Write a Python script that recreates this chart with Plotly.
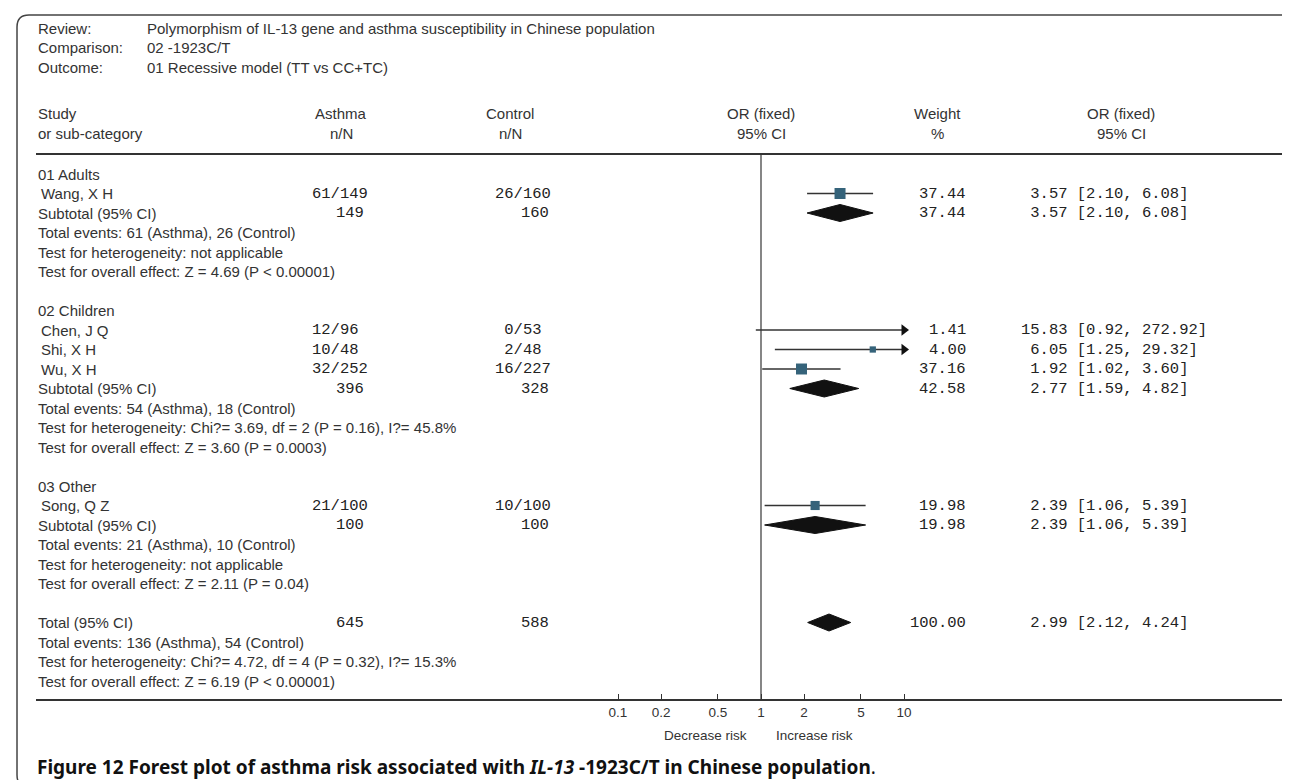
import plotly.graph_objects as go

# ---------------- data ----------------
review_labels = ["Review:", "Comparison:", "Outcome:"]
review_values = ["Polymorphism of IL-13 gene and asthma susceptibility in Chinese population",
                 "02 -1923C/T", "01 Recessive model (TT vs CC+TC)"]

groups = ["01 Adults", "02 Children", "03 Other"]
group_studies = [["Wang, X H"], ["Chen, J Q", "Shi, X H", "Wu, X H"], ["Song, Q Z"]]
asthma_n = [[61], [12, 10, 32], [21]]
asthma_N = [[149], [96, 48, 252], [100]]
control_n = [[26], [0, 2, 16], [10]]
control_N = [[160], [53, 48, 227], [100]]
study_weight = [[37.44], [1.41, 4.00, 37.16], [19.98]]
study_or = [[3.57], [15.83, 6.05, 1.92], [2.39]]
study_lo = [[2.10], [0.92, 1.25, 1.02], [1.06]]
study_hi = [[6.08], [272.92, 29.32, 3.60], [5.39]]

sub_asthma_N = [149, 396, 100]
sub_control_N = [160, 328, 100]
sub_weight = [37.44, 42.58, 19.98]
sub_or = [3.57, 2.77, 2.39]
sub_lo = [2.10, 1.59, 1.06]
sub_hi = [6.08, 4.82, 5.39]
sub_events = ["Total events: 61 (Asthma), 26 (Control)",
              "Total events: 54 (Asthma), 18 (Control)",
              "Total events: 21 (Asthma), 10 (Control)"]
sub_het = ["Test for heterogeneity: not applicable",
           "Test for heterogeneity: Chi?= 3.69, df = 2 (P = 0.16), I?= 45.8%",
           "Test for heterogeneity: not applicable"]
sub_effect = ["Test for overall effect: Z = 4.69 (P < 0.00001)",
              "Test for overall effect: Z = 3.60 (P = 0.0003)",
              "Test for overall effect: Z = 2.11 (P = 0.04)"]

total_asthma_N = 645
total_control_N = 588
total_weight = 100.00
total_or = 2.99
total_lo = 2.12
total_hi = 4.24
total_lines = ["Total events: 136 (Asthma), 54 (Control)",
               "Test for heterogeneity: Chi?= 4.72, df = 4 (P = 0.32), I?= 15.3%",
               "Test for overall effect: Z = 6.19 (P < 0.00001)"]

tick_vals = [0.1, 0.2, 0.5, 1, 2, 5, 10]
tick_text = ["0.1", "0.2", "0.5", "1", "2", "5", "10"]
plot_min, plot_max = 0.1, 10

# ---------------- layout constants ----------------
W, H = 1290, 780
SANS = "Liberation Sans, Arial, sans-serif"
MONO = "Liberation Mono, Courier New, monospace"
TXT = "#333333"
NUM = "#222222"
BOX = "#35637a"
NB = "\u00a0"
FS = 15
MS = 15.5

ROW0 = 166.0
STEP = 19.5
HEADER_LINE = 146
AXIS_Y = 692
ONE_PX = 753.0
DECADE_PX = 143.0
AX_L, AX_R = 28, 1284


def px(x):
    return x / W


annotations = []
shapes = []
traces = []


def txt(x, y, s, anchor="left", font=SANS, size=FS, color=TXT):
    annotations.append(dict(x=px(x), y=y, xref="paper", yref="y", text=s, showarrow=False,
                            xanchor=anchor, yanchor="middle",
                            font=dict(family=font, size=size, color=color)))


def nn(n, N):
    return f"{n:>2}".replace(" ", NB) + "/" + str(N)


def ortext(e, lo, hi):
    return f"{e:>5.2f}".replace(" ", NB) + f" [{lo:.2f}, {hi:.2f}]".replace(" ", NB)


def diamond(y, lo, e, hi):
    h = 8.5
    traces.append(go.Scatter(x=[lo, e, hi, e, lo], y=[y, y - h, y, y + h, y], mode="lines",
                             fill="toself", fillcolor="#111111",
                             line=dict(color="#111111", width=1), hoverinfo="skip", showlegend=False))


def ci_line(y, lo, e, hi, w):
    x0 = max(lo, plot_min)
    x1 = min(hi, plot_max)
    traces.append(go.Scatter(x=[x0, x1], y=[y, y], mode="lines",
                             line=dict(color="#333333", width=1.6), hoverinfo="skip", showlegend=False))
    if hi > plot_max:
        traces.append(go.Scatter(x=[plot_max], y=[y], mode="markers",
                                 marker=dict(symbol="triangle-right", size=10, color="#111111"),
                                 hoverinfo="skip", showlegend=False))
    if plot_min <= e <= plot_max:
        size = 4 + 7 * (w / 37.44) ** 0.5
        traces.append(go.Scatter(x=[e], y=[y], mode="markers",
                                 marker=dict(symbol="square", size=size, color=BOX, line=dict(width=0)),
                                 hoverinfo="skip", showlegend=False))


# ---------------- header ----------------
review_y = [20, 39.5, 59]
for y, lab, val in zip(review_y, review_labels, review_values):
    txt(28, y, lab)
    txt(137, y, val)

H1, H2 = 105, 125
txt(28, H1, "Study")
txt(28, H2, "or sub-category")
txt(333, H1, "Asthma", "center")
txt(333, H2, "n/N", "center")
txt(502, H1, "Control", "center")
txt(502, H2, "n/N", "center")
txt(ONE_PX, H1, "OR (fixed)", "center")
txt(ONE_PX, H2, "95% CI", "center")
txt(930, H1, "Weight", "center")
txt(930, H2, "%", "center")
txt(1113, H1, "OR (fixed)", "center")
txt(1113, H2, "95% CI", "center")

# ---------------- body ----------------
row = 0
for g in range(len(groups)):
    txt(28, ROW0 + row * STEP, groups[g])
    row += 1
    for i, name in enumerate(group_studies[g]):
        y = ROW0 + row * STEP
        txt(31, y, name)
        txt(302, y, nn(asthma_n[g][i], asthma_N[g][i]), font=MONO, size=MS, color=NUM)
        txt(485, y, nn(control_n[g][i], control_N[g][i]), font=MONO, size=MS, color=NUM)
        txt(960, y, f"{study_weight[g][i]:.2f}", "right", font=MONO, size=MS, color=NUM)
        txt(1011, y, ortext(study_or[g][i], study_lo[g][i], study_hi[g][i]), font=MONO, size=MS, color=NUM)
        ci_line(y, study_lo[g][i], study_or[g][i], study_hi[g][i], study_weight[g][i])
        row += 1
    y = ROW0 + row * STEP
    txt(28, y, "Subtotal (95% CI)")
    txt(358, y, str(sub_asthma_N[g]), "right", font=MONO, size=MS, color=NUM)
    txt(543, y, str(sub_control_N[g]), "right", font=MONO, size=MS, color=NUM)
    txt(960, y, f"{sub_weight[g]:.2f}", "right", font=MONO, size=MS, color=NUM)
    txt(1011, y, ortext(sub_or[g], sub_lo[g], sub_hi[g]), font=MONO, size=MS, color=NUM)
    diamond(y, sub_lo[g], sub_or[g], sub_hi[g])
    row += 1
    for s in (sub_events[g], sub_het[g], sub_effect[g]):
        txt(28, ROW0 + row * STEP, s)
        row += 1
    row += 1

y = ROW0 + row * STEP
txt(28, y, "Total (95% CI)")
txt(358, y, str(total_asthma_N), "right", font=MONO, size=MS, color=NUM)
txt(543, y, str(total_control_N), "right", font=MONO, size=MS, color=NUM)
txt(960, y, f"{total_weight:.2f}", "right", font=MONO, size=MS, color=NUM)
txt(1011, y, ortext(total_or, total_lo, total_hi), font=MONO, size=MS, color=NUM)
diamond(y, total_lo, total_or, total_hi)
row += 1
for s in total_lines:
    txt(28, ROW0 + row * STEP, s)
    row += 1

# vertical line of no effect
traces.insert(0, go.Scatter(x=[1, 1], y=[HEADER_LINE, AXIS_Y], mode="lines",
                            line=dict(color="#444444", width=1.3), hoverinfo="skip", showlegend=False))

# footer labels
txt(741, 727, "Decrease risk", "right", size=13.5)
txt(766, 727, "Increase risk", "left", size=13.5)

annotations.append(dict(x=px(27), y=759, xref="paper", yref="y", showarrow=False,
                        xanchor="left", yanchor="middle",
                        text="<b>Figure 12 Forest plot of asthma risk associated with <i>IL-13</i> -1923C/T in Chinese population</b>.",
                        font=dict(family="Noto Sans, Open Sans, sans-serif", size=19, color="#111111")))

# header rule
shapes.append(dict(type="line", xref="paper", yref="y", x0=px(AX_L), x1=px(AX_R), y0=HEADER_LINE, y1=HEADER_LINE,
                   line=dict(color="#333333", width=2)))

# rounded border
L, T, R, B, r = 9, 7, 1284, 779, 12


def P(x, y):
    return f"{x / W:.5f},{1 - y / H:.5f}"


path = (f"M {P(L, B - r)} L {P(L, T + r)} Q {P(L, T)} {P(L + r, T)} L {P(R - r, T)} "
        f"Q {P(R, T)} {P(R, T + r)} L {P(R, B - r)} Q {P(R, B)} {P(R - r, B)} "
        f"L {P(L + r, B)} Q {P(L, B)} {P(L, B - r)} Z")
shapes.append(dict(type="path", xref="paper", yref="paper", path=path,
                   line=dict(color="#444444", width=1.5)))

fig = go.Figure(traces)

lo_log = (AX_L - ONE_PX) / DECADE_PX
hi_log = (AX_R - ONE_PX) / DECADE_PX

fig.update_layout(
    width=W, height=H, margin=dict(l=0, r=0, t=0, b=0),
    paper_bgcolor="white", plot_bgcolor="rgba(0,0,0,0)",
    showlegend=False, annotations=annotations, shapes=shapes,
    xaxis=dict(type="log", domain=[px(AX_L), px(AX_R)], range=[lo_log, hi_log],
               anchor="free", position=1 - AXIS_Y / H,
               showline=True, linecolor="#333333", linewidth=1.6,
               tickvals=tick_vals, ticktext=tick_text, ticks="inside", ticklen=5,
               tickcolor="#333333", tickwidth=1.2,
               tickfont=dict(family=SANS, size=13.5, color=TXT),
               showgrid=False, zeroline=False, fixedrange=True),
    yaxis=dict(range=[H, 0], domain=[0, 1], visible=False, fixedrange=True),
)

fig.write_html("out.html")
